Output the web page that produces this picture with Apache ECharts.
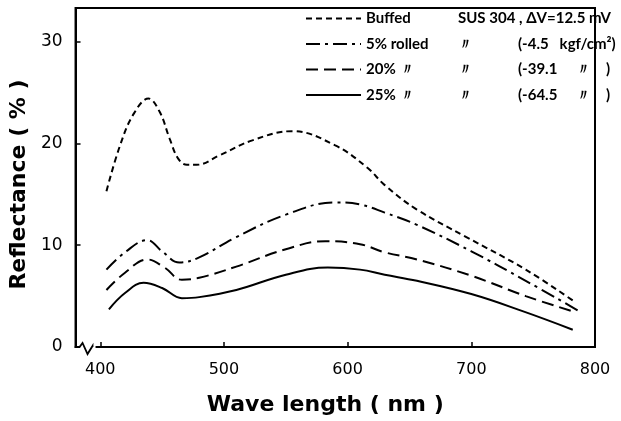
<!DOCTYPE html>
<html><head><meta charset="utf-8">
<script src="https://cdn.jsdelivr.net/npm/echarts@6/dist/echarts.min.js"></script>
<style>html,body{margin:0;padding:0;background:#fff}#c{width:621px;height:421px}</style>
</head><body><div id="c"></div>
<script>
// ---- data ----
const xTicks = [400, 500, 600, 700, 800];
const yTicks = [0, 10, 20, 30];
const seriesNames = ['Buffed', '5% rolled', '20%', '25%'];

const buffedNm  = [405, 416, 427, 439, 448, 456, 463, 470, 478, 496, 523, 555, 590, 616, 630, 656, 696, 744, 784];
const buffedVal = [15.3, 19.8, 22.9, 24.4, 23.1, 20.5, 18.5, 17.9, 17.9, 18.8, 20.3, 21.2, 19.8, 17.6, 15.9, 13.5, 10.8, 7.6, 4.4];

const r5Nm  = [405, 420, 438, 450, 464, 480, 510, 550, 590, 610, 630, 656, 700, 744, 786];
const r5Val = [7.6, 9.3, 10.5, 9.4, 8.3, 8.8, 10.8, 13.0, 14.2, 14.0, 13.2, 12.0, 9.4, 6.5, 3.6];

const r20Nm  = [405, 420, 438, 452, 466, 480, 510, 550, 582, 610, 630, 656, 700, 744, 782];
const r20Val = [5.6, 7.3, 8.6, 7.8, 6.6, 6.8, 7.9, 9.6, 10.4, 10.1, 9.3, 8.6, 7.0, 5.0, 3.5];

const r25Nm  = [407, 420, 435, 450, 466, 480, 510, 550, 584, 610, 630, 656, 700, 742, 782];
const r25Val = [3.7, 5.3, 6.3, 5.8, 4.8, 4.9, 5.6, 7.1, 7.8, 7.6, 7.1, 6.5, 5.2, 3.5, 1.7];

// legend text columns
const legendCol1 = ['Buffed', '5% rolled', '20%', '25%'];
const legendCol2 = ['SUS 304 , ΔV=12.5 mV', '〃', '〃', '〃'];
const legendCol3 = ['', '(-4.5   kgf/cm²)', '(-39.1', '(-64.5'];
const legendCol4 = ['', '', '〃', '〃'];
const legendCol5 = ['', '', ')', ')'];

const pairs = (xs, ys) => xs.map((x, i) => [x, ys[i]]);
const LFONT = 'Lato, "DejaVu Sans", sans-serif';
const TFONT = '"DejaVu Sans", sans-serif';

const chart = echarts.init(document.getElementById('c'), null, {renderer: 'canvas'});
const mk = (name, xs, ys, type) => ({
  name, type: 'line', data: pairs(xs, ys), smooth: 0.4, symbol: 'none', showSymbol: false,
  lineStyle: {color: '#000', width: 2, type: type, cap: 'butt'}, itemStyle: {color: '#000'}
});

const legendFormatter = (name) => {
  const i = seriesNames.indexOf(name);
  if (i === 0) return '{a|' + legendCol1[0] + '}{c0|' + legendCol2[0] + '}';
  if (i === 1) return '{a|' + legendCol1[1] + '}{c|' + legendCol2[1] + '}{d|' + legendCol3[1] + '}';
  return '{a1|' + legendCol1[i] + '}{b|〃}{c|' + legendCol2[i] + '}{d1|' + legendCol3[i] + '}{e|' + legendCol4[i] + '}{f|' + legendCol5[i] + '}';
};
const rt = {fontSize: 15, fontFamily: LFONT, fontWeight: 'bold', color: '#000'};

chart.setOption({
  animation: false,
  backgroundColor: '#fff',
  grid: {left: 68, right: 26, top: 8, bottom: 69, show: true, borderColor: '#000', borderWidth: 2, containLabel: false},
  legend: {
    orient: 'vertical', left: 300, top: 6, itemWidth: 55, itemHeight: 12, itemGap: 10.5,
    data: seriesNames, formatter: legendFormatter, selectedMode: false,
    itemStyle: {opacity: 0},
    textStyle: {fontSize: 15, fontFamily: LFONT, color: '#000',
      rich: {
        a: Object.assign({width: 92}, rt),
        a1: Object.assign({width: 34}, rt),
        b: Object.assign({width: 58}, rt),
        c0: Object.assign({}, rt),
        c: Object.assign({width: 60}, rt),
        d: Object.assign({}, rt),
        d1: Object.assign({width: 58}, rt),
        e: Object.assign({width: 30}, rt),
        f: Object.assign({}, rt)
      }}
  },
  xAxis: {
    type: 'value', min: 380, max: 800,
    axisLine: {show: true, lineStyle: {color: '#000', width: 2}},
    axisTick: {show: true, inside: true, length: 5, customValues: xTicks, lineStyle: {color: '#000', width: 1.5}},
    axisLabel: {customValues: xTicks, color: '#000', fontSize: 16, fontFamily: TFONT, margin: 15},
    splitLine: {show: false},
    name: 'Wave length ( nm )', nameLocation: 'middle', nameGap: 47,
    nameTextStyle: {fontSize: 22, fontWeight: 'bold', fontFamily: TFONT, color: '#000', padding: [0, 20, 0, 0]}
  },
  yAxis: {
    type: 'value', min: 0, max: 33.3,
    axisLine: {show: true, lineStyle: {color: '#000', width: 2}},
    axisTick: {show: true, inside: true, length: 5, customValues: yTicks, lineStyle: {color: '#000', width: 1.5}},
    axisLabel: {customValues: yTicks, color: '#000', fontSize: 17, fontFamily: TFONT, margin: 13},
    splitLine: {show: false},
    name: 'Reflectance ( % )', nameLocation: 'middle', nameGap: 35,
    nameTextStyle: {fontSize: 22, fontWeight: 'bold', fontFamily: TFONT, color: '#000', padding: [0, 14, 0, 0]}
  },
  series: [
    mk(seriesNames[0], buffedNm, buffedVal, [6, 4]),
    mk(seriesNames[1], r5Nm, r5Val, [14, 5, 3, 5]),
    mk(seriesNames[2], r20Nm, r20Val, [12, 6]),
    mk(seriesNames[3], r25Nm, r25Val, 'solid')
  ]
});

// axis break symbol on the x axis near its origin
const p0 = chart.convertToPixel({gridIndex: 0}, [380, 0]);
const x0 = p0[0], y0 = p0[1];
chart.setOption({
  graphic: [
    {type: 'rect', z: 100, shape: {x: x0 + 3, y: y0 - 3, width: 19, height: 6}, style: {fill: '#fff'}},
    {type: 'polyline', z: 101, shape: {points: [[x0, y0], [x0 + 4, y0], [x0 + 7, y0 - 4], [x0 + 12, y0 + 7], [x0 + 17, y0 - 1], [x0 + 17, y0]]},
      style: {stroke: '#000', lineWidth: 1.8, fill: null}},
    {type: 'line', z: 101, shape: {x1: x0 + 20, y1: y0, x2: x0 + 24, y2: y0}, style: {stroke: '#000', lineWidth: 2}}
  ]
});
</script></body></html>
